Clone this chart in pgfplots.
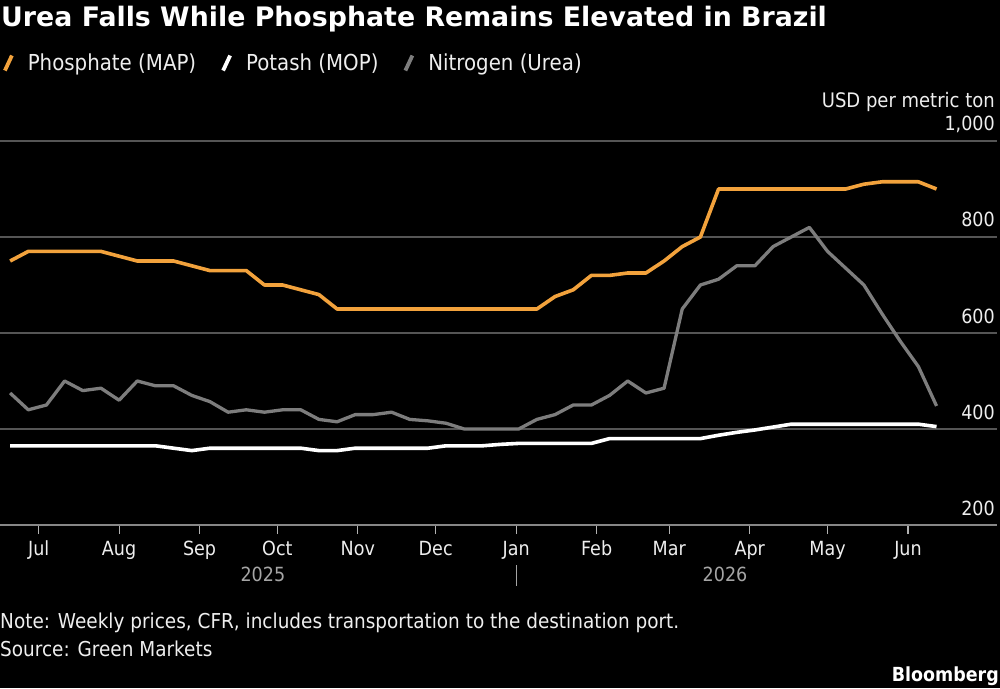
\documentclass[border=0pt]{standalone}
\usepackage{fontspec}
\setmainfont{DejaVu Sans}[FakeStretch=0.9]
\newfontfamily\headfont{DejaVu Sans}
\usepackage{pgfplots}
\pgfplotsset{compat=1.18}
\usepackage{pgfplotstable}

\definecolor{mapcol}{RGB}{242,162,60}
\definecolor{ureacol}{RGB}{125,125,125}
\definecolor{gridcol}{RGB}{85,85,85}
\definecolor{axiscol}{RGB}{135,135,135}
\definecolor{textcol}{RGB}{238,238,238}
\definecolor{yearcol}{RGB}{165,165,165}

% Weekly CFR Brazil prices, USD per metric ton.
% day = days since 1 July 2025
\pgfplotstableread{
day  map  mop  urea
-11  750  365  475
-4   770  365  440
3    770  365  450
10   770  365  500
17   770  365  480
24   770  365  485
31   760  365  460
38   750  365  500
45   750  365  490
52   750  360  490
59   740  355  470
66   730  360  457
73   730  360  435
80   730  360  440
87   700  360  435
94   700  360  440
101  690  360  440
108  680  355  420
115  650  355  415
122  650  360  430
129  650  360  430
136  650  360  435
143  650  360  420
150  650  360  417
157  650  365  412
164  650  365  400
171  650  365  400
178  650  368  400
185  650  370  400
192  650  370  420
199  676  370  430
206  690  370  450
213  720  370  450
220  720  380  470
227  725  380  500
234  725  380  475
241  750  380  485
248  780  380  650
255  800  380  700
262  900  387  712
269  900  393  740
276  900  398  740
283  900  404  780
290  900  410  800
297  900  410  820
304  900  410  770
311  900  410  735
318  910  410  700
325  915  410  640
332  915  410  583
339  915  410  530
346  900  405  448
}\prices

\begin{document}
\begin{tikzpicture}
\path[fill=black, use as bounding box] (0pt,0pt) rectangle (1000pt,688pt);

\node[anchor=base west, inner sep=0pt, text=white,
      font=\headfont\bfseries\fontsize{26.8}{30}\selectfont]
  at (1pt,661.5pt) {Urea Falls While Phosphate Remains Elevated in Brazil};

\begin{axis}[
  at={(0pt,163pt)}, anchor=south west,
  scale only axis, width=997pt, height=384pt,
  clip=false,
  xmin=-14.9, xmax=369.3, ymin=200, ymax=1000,
  axis x line*=bottom, axis y line*=right,
  x axis line style={-, draw=axiscol, line width=1.3pt},
  y axis line style={draw=none},
  xtick={0,31,62,92,123,153,184,215,243,274,304,335},
  xticklabels={Jul,Aug,Sep,Oct,Nov,Dec,Jan,Feb,Mar,Apr,May,Jun},
  ytick={200,400,600,800,1000},
  ymajorgrids, grid style={draw=gridcol, line width=1.2pt},
  tick align=outside, major tick length=9pt,
  xtick style={draw=textcol!75!black, line width=1.2pt},
  ytick style={draw=none},
  tick label style={font=\fontsize{19.5}{20}\selectfont, text=textcol, inner sep=0pt},
  xticklabel style={anchor=base, yshift=-21pt},
  yticklabel style={anchor=base east, xshift=-11pt, yshift=10pt},
  /pgf/number format/assume math mode=true,
  /pgf/number format/1000 sep={,},
  legend columns=3,
  legend style={draw=none, fill=none, at={(0.003,1.203)}, anchor=west,
    inner sep=0pt, outer sep=0pt,
    nodes={inner sep=0pt, text=textcol, font=\fontsize{22}{23}\selectfont},
    /tikz/every odd column/.append style={column sep=14pt},
    /tikz/every even column/.append style={column sep=25pt}},
  legend image code/.code={\draw[#1, line width=3.8pt, line cap=butt] (0pt,-7.5pt) -- (7pt,7.5pt);},
  every axis plot/.append style={line join=round},
]
\addplot[mapcol, line width=3.6pt] table[x=day, y=map] {\prices};
\addlegendentry{Phosphate (MAP)}
\addplot[white, line width=3.6pt] table[x=day, y=mop] {\prices};
\addlegendentry{Potash (MOP)}
\addplot[ureacol, line width=3.3pt] table[x=day, y=urea] {\prices};
\addlegendentry{Nitrogen (Urea)}

\node[anchor=base east, inner sep=0pt, text=textcol, font=\fontsize{20}{22}\selectfont,
      xshift=-2pt, yshift=33pt] at (rel axis cs:1,1) {USD per metric ton};
\node[anchor=base, inner sep=0pt, text=yearcol, font=\fontsize{19.5}{20}\selectfont,
      yshift=-56pt] at (axis cs:86.4,200) {2025};
\node[anchor=base, inner sep=0pt, text=yearcol, font=\fontsize{19.5}{20}\selectfont,
      yshift=-56pt] at (axis cs:264.5,200) {2026};
\draw[yearcol, line width=1.2pt] (axis cs:184,200) ++(0pt,-40pt) -- ++(0pt,-21pt);
\end{axis}

\node[anchor=base west, inner sep=0pt, text=textcol, font=\fontsize{20.5}{22}\selectfont]
  at (0pt,60pt) {Note: Weekly prices, CFR, includes transportation to the destination port.};
\node[anchor=base west, inner sep=0pt, text=textcol, font=\fontsize{20.5}{22}\selectfont]
  at (0pt,32pt) {Source: Green Markets};
\node[anchor=base east, inner sep=0pt, text=white, font=\bfseries\fontsize{19.4}{20}\selectfont]
  at (999pt,7pt) {Bloomberg};
\end{tikzpicture}
\end{document}
